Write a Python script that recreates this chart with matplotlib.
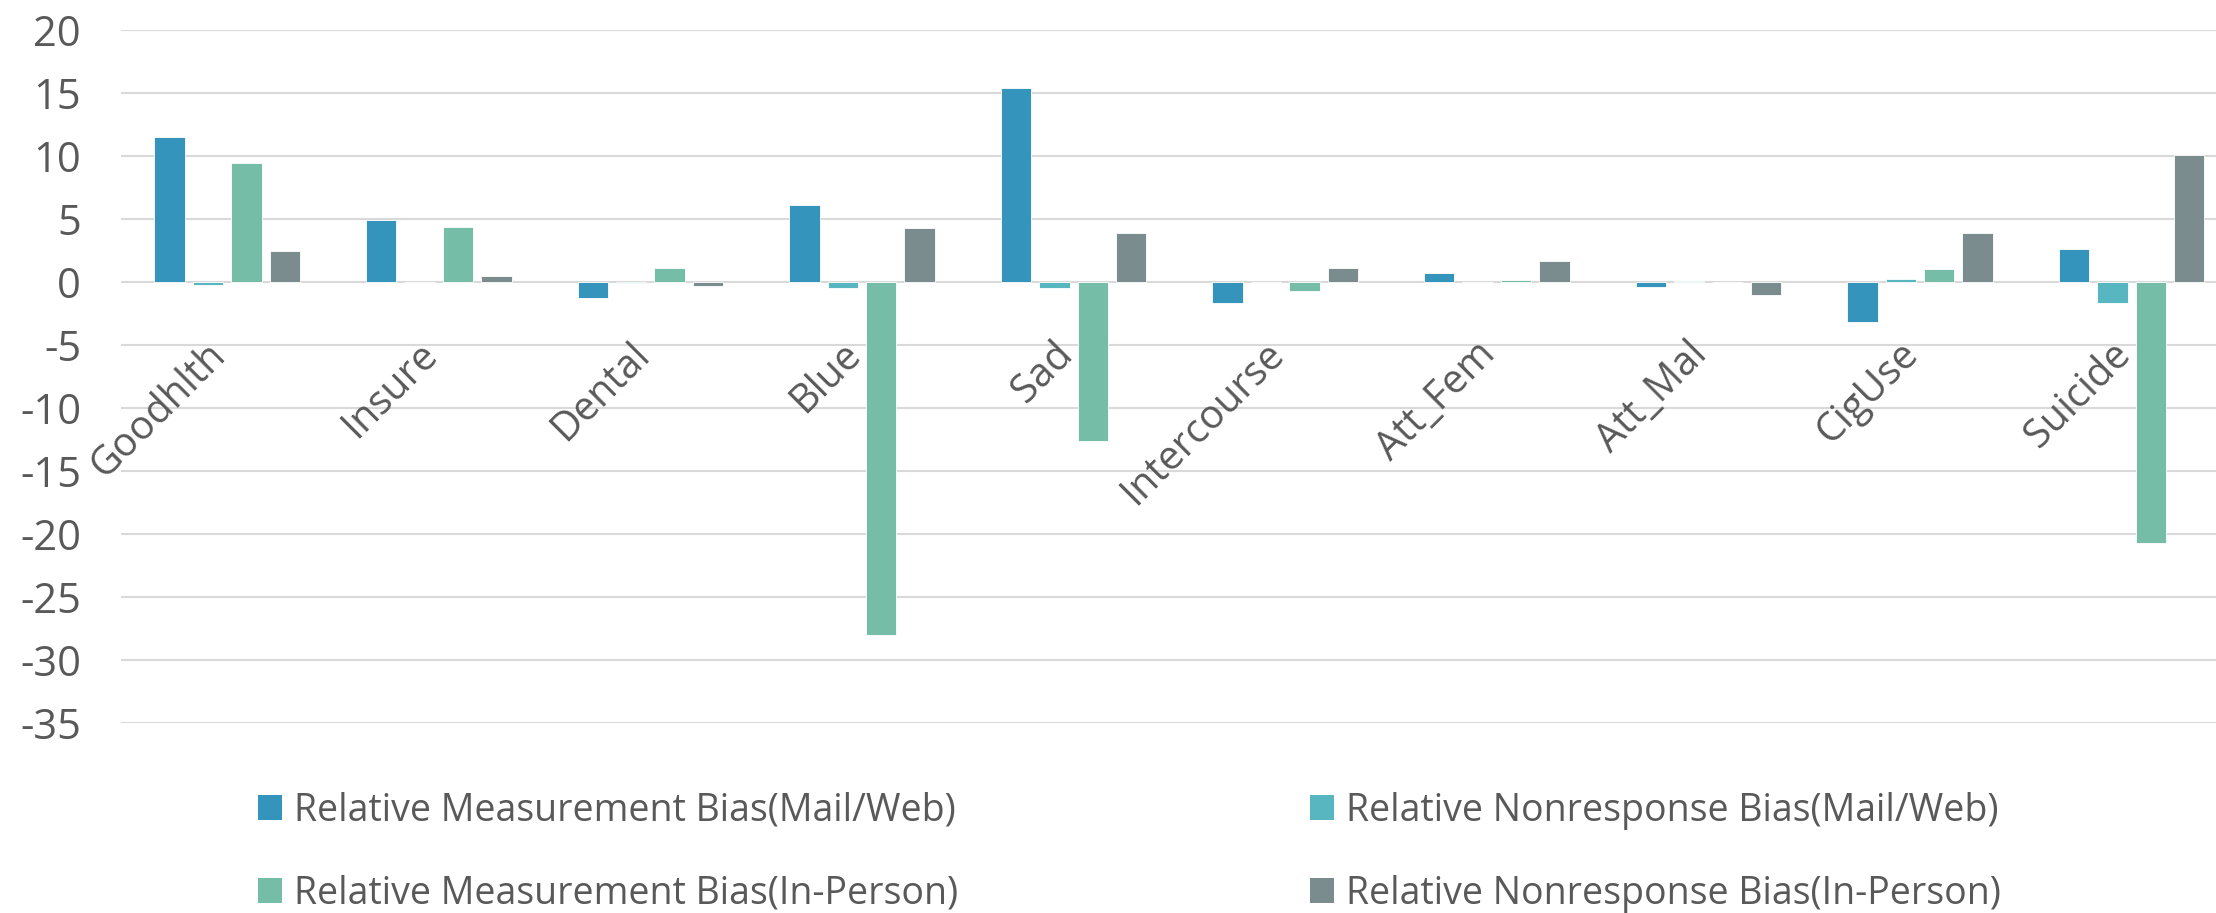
import matplotlib
matplotlib.use("Agg")
import matplotlib.pyplot as plt
from matplotlib.patches import Patch
import numpy as np

categories = ["Goodhlth", "Insure", "Dental", "Blue", "Sad", "Intercourse",
              "Att_Fem", "Att_Mal", "CigUse", "Suicide"]
series_names = ["Relative Measurement Bias(Mail/Web)",
                "Relative Nonresponse Bias(Mail/Web)",
                "Relative Measurement Bias(In-Person)",
                "Relative Nonresponse Bias(In-Person)"]
meas_mail = [11.5, 4.9, -1.3, 6.1, 15.4, -1.7, 0.7, -0.4, -3.2, 2.6]
nonresp_mail = [-0.2, 0.0, -0.1, -0.45, -0.5, 0.0, 0.0, 0.05, 0.2, -1.7]
meas_ip = [9.45, 4.4, 1.1, -28.0, -12.6, -0.7, 0.15, 0.0, 1.0, -20.7]
nonresp_ip = [2.5, 0.5, -0.3, 4.25, 3.9, 1.1, 1.7, -1.0, 3.85, 10.1]
yticks = list(range(-35, 21, 5))

colors = ["#3594BC", "#58B6C0", "#75BDA7", "#7A8C8E"]
text_color = "#595959"
grid_color = "#D9D9D9"

plt.rcParams['font.family'] = ['Open Sans', 'DejaVu Sans']

fig = plt.figure(figsize=(22.16, 9.13), dpi=100)
W, H = 2216, 913
ax = fig.add_axes([121.4 / W, 1 - 723 / H, 2116 / W, (723 - 30) / H])

x = np.arange(len(categories))
step = 0.1815
width = 0.1435
all_series = [meas_mail, nonresp_mail, meas_ip, nonresp_ip]
for k, vals in enumerate(all_series):
    ax.bar(x + (k - 1.5) * step, vals, width=width, color=colors[k],
           edgecolor="white", linewidth=0.6, zorder=3, label=series_names[k])

ax.set_xlim(-0.5, len(categories) - 0.5)
ax.set_ylim(-35, 20)
ax.set_yticks(yticks)
ax.set_yticklabels([str(v) for v in yticks])
ax.tick_params(axis='y', length=0, pad=29, labelsize=30, labelcolor=text_color)
ax.set_xticks([])
ax.yaxis.grid(True, color=grid_color, linewidth=1.5, zorder=0)
ax.set_axisbelow(True)
for s in ax.spines.values():
    s.set_visible(False)

for i, c in enumerate(categories):
    ax.annotate(c, xy=(i, 0), xytext=(-5, -48), textcoords='offset points',
                rotation=45, ha='right', va='center', rotation_mode='anchor',
                fontsize=28.5, color=text_color, zorder=4)

handles = [Patch(facecolor=colors[k], edgecolor='none') for k in range(4)]
leg_kw = dict(loc='center left', frameon=False, fontsize=27, handlelength=0.65,
              handleheight=0.65, handletextpad=0.3, labelspacing=1.2,
              borderpad=0, borderaxespad=0, labelcolor=text_color)
leg1 = fig.legend([handles[0], handles[2]], [series_names[0], series_names[2]],
                  bbox_to_anchor=(258 / W, 1 - 852 / H), **leg_kw)
leg2 = fig.legend([handles[1], handles[3]], [series_names[1], series_names[3]],
                  bbox_to_anchor=(1310 / W, 1 - 852 / H), **leg_kw)

fig.savefig("out.png", dpi=100)
